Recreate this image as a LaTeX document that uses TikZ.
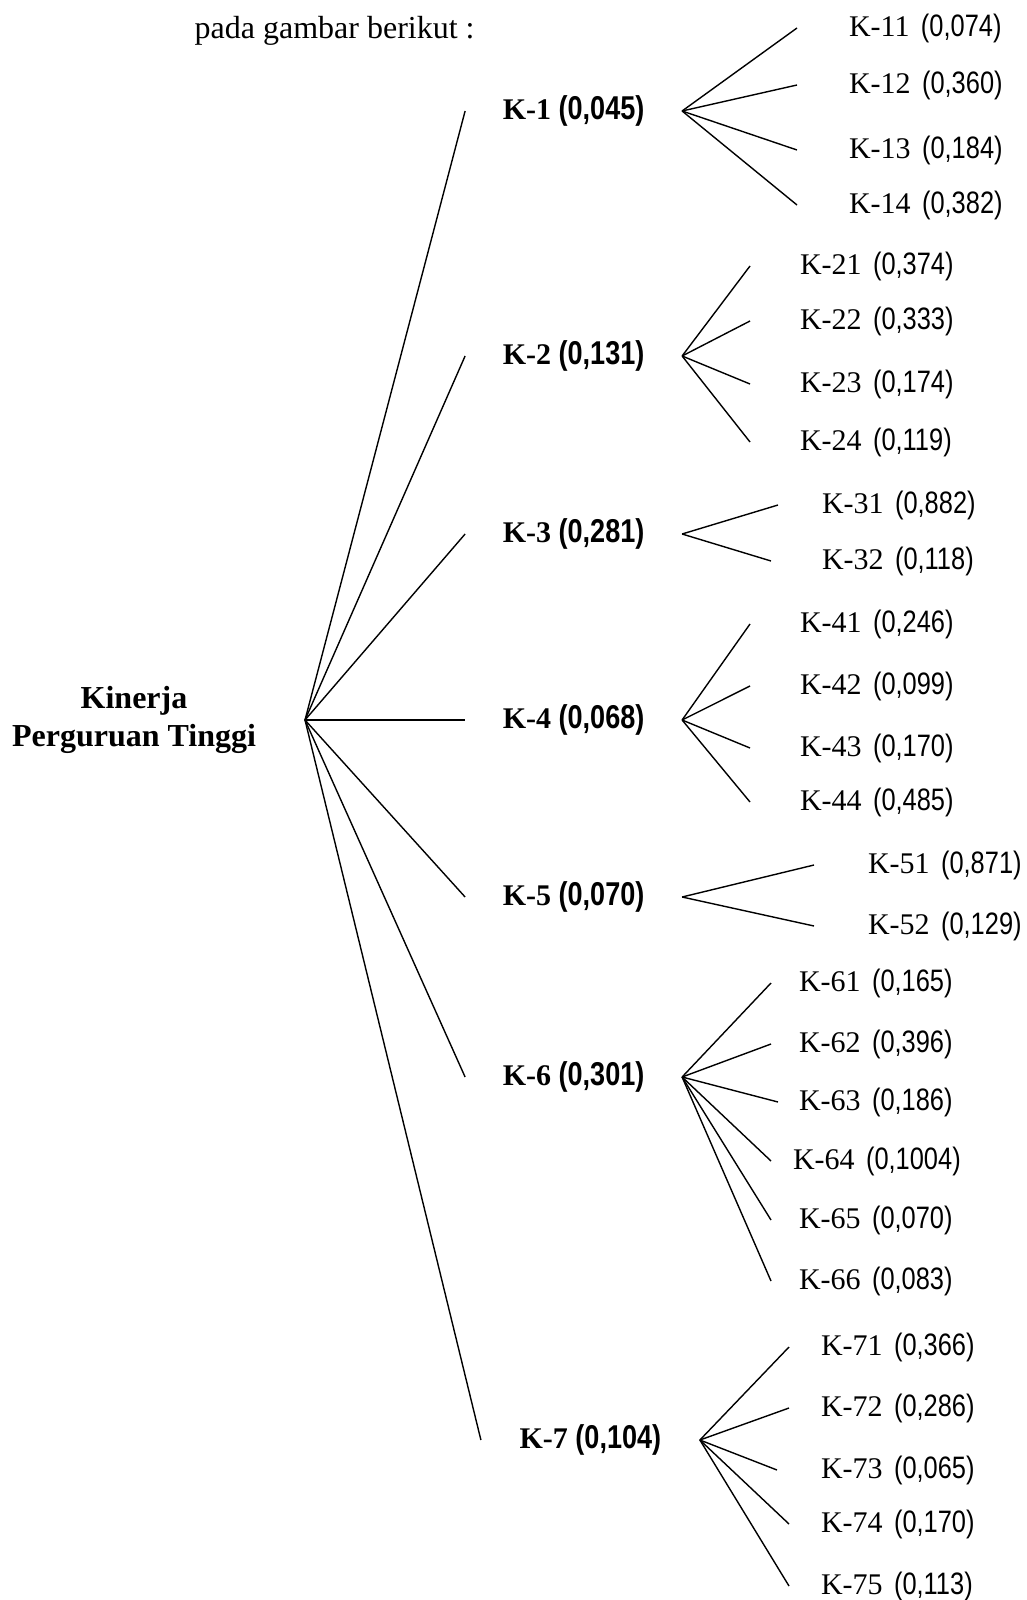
\documentclass[tikz,border=0pt]{standalone}
\usepackage{fontspec}
\setmainfont{Liberation Serif}
\newfontfamily\narrowfont[FakeStretch=0.82]{Liberation Sans}
\newcommand{\maincrit}[2]{#1 {\narrowfont\fontsize{33}{36}\selectfont(#2)}}
\newcommand{\subcrit}[2]{#1\hspace{0.38em}{\narrowfont\fontsize{31}{36}\selectfont(#2)}}
\tikzset{crit/.style={font=\fontsize{30}{36}\selectfont\bfseries, minimum width=217pt, inner sep=0pt, outer sep=0pt},
  subnode/.style={anchor=west, font=\fontsize{30}{36}\selectfont, inner xsep=#1, inner ysep=0pt, outer sep=0pt}}

\begin{document}
\begin{tikzpicture}[x=1pt, y=-1pt, line width=1.4pt]
  \useasboundingbox (0,0) rectangle (1026,1600);
  \node[anchor=west, font=\fontsize{32}{36}\selectfont, inner sep=0pt] (intro) at (194,31) {pada gambar berikut :};

  \node[font=\fontsize{32}{38}\selectfont\bfseries, align=center, minimum width=342pt, inner sep=0pt, outer sep=0pt] (root) at (134,720) {Kinerja\\Perguruan Tinggi};

  \node[crit] (k-1) at (573.6,111) {\maincrit{K-1}{0,045}};
  \node[crit] (k-2) at (573.6,356) {\maincrit{K-2}{0,131}};
  \node[crit] (k-3) at (573.6,534) {\maincrit{K-3}{0,281}};
  \node[crit] (k-4) at (573.6,720) {\maincrit{K-4}{0,068}};
  \node[crit] (k-5) at (573.6,897) {\maincrit{K-5}{0,070}};
  \node[crit] (k-6) at (573.6,1077) {\maincrit{K-6}{0,301}};
  \node[crit, minimum width=219pt] (k-7) at (590.4,1440) {\maincrit{K-7}{0,104}};
  \foreach \k in {1,...,7}
    \draw (root.east) -- (k-\k.west);

  \node[subnode=52pt] (k-11) at (797,28) {\subcrit{K-11}{0,074}};
  \node[subnode=52pt] (k-12) at (797,85) {\subcrit{K-12}{0,360}};
  \node[subnode=52pt] (k-13) at (797,150) {\subcrit{K-13}{0,184}};
  \node[subnode=52pt] (k-14) at (797,205) {\subcrit{K-14}{0,382}};
  \foreach \j in {1,...,4}
    \draw (k-1.east) -- (k-1\j.west);

  \node[subnode=50pt] (k-21) at (750,266) {\subcrit{K-21}{0,374}};
  \node[subnode=50pt] (k-22) at (750,321) {\subcrit{K-22}{0,333}};
  \node[subnode=50pt] (k-23) at (750,384) {\subcrit{K-23}{0,174}};
  \node[subnode=50pt] (k-24) at (750,442) {\subcrit{K-24}{0,119}};
  \foreach \j in {1,...,4}
    \draw (k-2.east) -- (k-2\j.west);

  \node[subnode=44pt] (k-31) at (778,505) {\subcrit{K-31}{0,882}};
  \node[subnode=51pt] (k-32) at (771,561) {\subcrit{K-32}{0,118}};
  \foreach \j in {1,2}
    \draw (k-3.east) -- (k-3\j.west);

  \node[subnode=50pt] (k-41) at (750,624) {\subcrit{K-41}{0,246}};
  \node[subnode=50pt] (k-42) at (750,686) {\subcrit{K-42}{0,099}};
  \node[subnode=50pt] (k-43) at (750,748) {\subcrit{K-43}{0,170}};
  \node[subnode=50pt] (k-44) at (750,802) {\subcrit{K-44}{0,485}};
  \foreach \j in {1,...,4}
    \draw (k-4.east) -- (k-4\j.west);

  \node[subnode=54pt] (k-51) at (814,865) {\subcrit{K-51}{0,871}};
  \node[subnode=54pt] (k-52) at (814,926) {\subcrit{K-52}{0,129}};
  \foreach \j in {1,2}
    \draw (k-5.east) -- (k-5\j.west);

  \node[subnode=28pt] (k-61) at (771,983) {\subcrit{K-61}{0,165}};
  \node[subnode=28pt] (k-62) at (771,1044) {\subcrit{K-62}{0,396}};
  \node[subnode=21pt] (k-63) at (778,1102) {\subcrit{K-63}{0,186}};
  \node[subnode=22pt] (k-64) at (771,1161) {\subcrit{K-64}{0,1004}};
  \node[subnode=28pt] (k-65) at (771,1220) {\subcrit{K-65}{0,070}};
  \node[subnode=28pt] (k-66) at (771,1281) {\subcrit{K-66}{0,083}};
  \foreach \j in {1,...,6}
    \draw (k-6.east) -- (k-6\j.west);

  \node[subnode=32pt] (k-71) at (789,1347) {\subcrit{K-71}{0,366}};
  \node[subnode=32pt] (k-72) at (789,1408) {\subcrit{K-72}{0,286}};
  \node[subnode=44pt] (k-73) at (777,1470) {\subcrit{K-73}{0,065}};
  \node[subnode=32pt] (k-74) at (789,1524) {\subcrit{K-74}{0,170}};
  \node[subnode=32pt] (k-75) at (789,1586) {\subcrit{K-75}{0,113}};
  \foreach \j in {1,...,5}
    \draw (k-7.east) -- (k-7\j.west);
\end{tikzpicture}
\end{document}
